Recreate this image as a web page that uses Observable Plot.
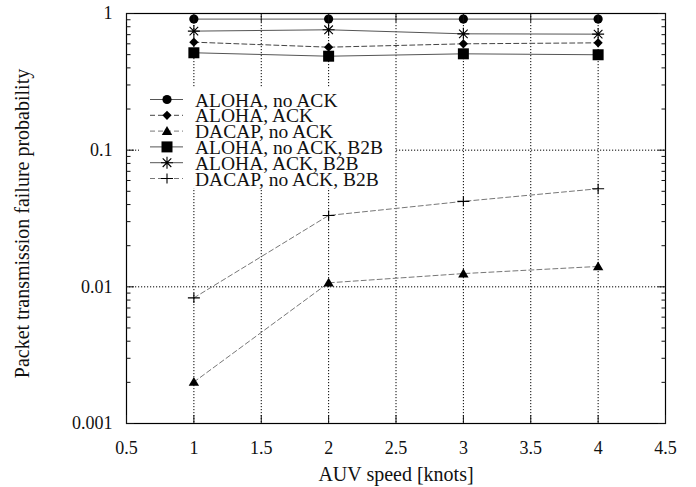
<!DOCTYPE html>
<html>
<head>
<meta charset="utf-8">
<script src="https://cdn.jsdelivr.net/npm/d3@7"></script>
<script src="https://cdn.jsdelivr.net/npm/@observablehq/plot@0.6"></script>
<style>
  html, body { margin: 0; padding: 0; background: white; }
  #chart { width: 696px; height: 487px; }
</style>
</head>
<body>
<div id="chart"></div>
<script>
// ---- data ----
const speeds = [1, 2, 3, 4];
const alohaNoAck    = [0.91, 0.91, 0.91, 0.91];
const alohaAck      = [0.617, 0.567, 0.60, 0.61];
const dacapNoAck    = [0.00201, 0.0107, 0.0125, 0.0141];
const alohaNoAckB2B = [0.516, 0.487, 0.507, 0.499];
const alohaAckB2B   = [0.743, 0.76, 0.71, 0.706];
const dacapNoAckB2B = [0.0083, 0.0333, 0.0422, 0.0522];

const seriesNames = ["ALOHA, no ACK", "ALOHA, ACK", "DACAP, no ACK",
                     "ALOHA, no ACK, B2B", "ALOHA, ACK, B2B", "DACAP, no ACK, B2B"];
const seriesValues = [alohaNoAck, alohaAck, dacapNoAck, alohaNoAckB2B, alohaAckB2B, dacapNoAckB2B];

const xTicks = [0.5, 1, 1.5, 2, 2.5, 3, 3.5, 4, 4.5];
const xGrid = [1, 1.5, 2, 2.5, 3, 3.5, 4];
const yTicks = [0.001, 0.01, 0.1, 1];
const yTickLabels = ["0.001", "0.01", "0.1", "1"];
const yGrid = [0.01, 0.1];
const yMinor = [];
for (const d of [0.001, 0.01, 0.1]) for (let m = 2; m <= 9; m++) yMinor.push(+(d * m).toPrecision(3));

const xLabel = "AUV speed [knots]";
const yLabel = "Packet transmission failure probability";

// ---- styles ----
const FONT = "'Liberation Serif', 'Times New Roman', serif";
const sym = {
  circle:   {draw(c) { c.moveTo(4.6, 0); c.arc(0, 0, 4.6, 0, 2 * Math.PI); }},
  diamond:  {draw(c) { const h = 4.6; c.moveTo(0, -h); c.lineTo(h, 0); c.lineTo(0, h); c.lineTo(-h, 0); c.closePath(); }},
  triangle: {draw(c) { c.moveTo(0, -5); c.lineTo(5.2, 3.8); c.lineTo(-5.2, 3.8); c.closePath(); }},
  square:   {draw(c) { c.rect(-5.5, -5.5, 11, 11); }},
  asterisk: {draw(c) { const h = 6; c.moveTo(-h, 0); c.lineTo(h, 0); c.moveTo(0, -h); c.lineTo(0, h);
                        const d = 4.3; c.moveTo(-d, -d); c.lineTo(d, d); c.moveTo(-d, d); c.lineTo(d, -d); }},
  plus:     {draw(c) { c.moveTo(-6, 0); c.lineTo(6, 0); c.moveTo(0, -5); c.lineTo(0, 5); }}
};
const styles = [
  {symbol: sym.circle,   filled: true,  stroke: "#555", dash: null},
  {symbol: sym.diamond,  filled: true,  stroke: "#444", dash: "5,3"},
  {symbol: sym.triangle, filled: true,  stroke: "#777", dash: "5,3"},
  {symbol: sym.square,   filled: true,  stroke: "#555", dash: null},
  {symbol: sym.asterisk, filled: false, stroke: "#555", dash: null},
  {symbol: sym.plus,     filled: false, stroke: "#777", dash: "5,3"}
];

const rows = [];
seriesNames.forEach((name, i) => speeds.forEach((s, j) => rows.push({series: name, idx: i, x: s, y: seriesValues[i][j]})));

const marks = [
  Plot.ruleX(xGrid, {stroke: "black", strokeWidth: 1, strokeDasharray: "1.2,1.8"}),
  Plot.ruleY(yGrid, {stroke: "black", strokeWidth: 1, strokeDasharray: "1.2,1.8"}),
];
styles.forEach((st, i) => {
  const d = rows.filter(r => r.idx === i);
  marks.push(Plot.line(d, {x: "x", y: "y", stroke: st.stroke, strokeWidth: 1, strokeDasharray: st.dash || undefined}));
});
styles.forEach((st, i) => {
  const d = rows.filter(r => r.idx === i);
  marks.push(Plot.dot(d, {x: "x", y: "y", symbol: st.symbol,
    fill: st.filled ? "black" : "none", stroke: st.filled ? "none" : "black", strokeWidth: 1.1}));
});
marks.push(
  Plot.frame({stroke: "black", strokeWidth: 1.2}),
  Plot.axisX({ticks: xTicks, tickSize: 0, tickPadding: 18, tickFormat: d => String(d), label: null, fontSize: 18}),
  Plot.axisX({ticks: xTicks, tickSize: -8, text: null, label: null, anchor: "bottom"}),
  Plot.axisX({ticks: xTicks, tickSize: -8, text: null, label: null, anchor: "top"}),
  Plot.axisY({ticks: yTicks, tickSize: 0, tickPadding: 14, tickFormat: d => yTickLabels[yTicks.indexOf(d)], label: null, fontSize: 18}),
  Plot.axisY({ticks: yTicks, tickSize: -8, text: null, label: null, anchor: "left"}),
  Plot.axisY({ticks: yTicks, tickSize: -8, text: null, label: null, anchor: "right"}),
  Plot.axisY({ticks: yMinor, tickSize: -4.5, text: null, label: null, anchor: "left"}),
  Plot.axisY({ticks: yMinor, tickSize: -4.5, text: null, label: null, anchor: "right"}),
  Plot.text([xLabel], {frameAnchor: "bottom", textAnchor: "middle", lineAnchor: "middle", dy: 51, fontSize: 20}),
  Plot.text([yLabel], {frameAnchor: "left", textAnchor: "middle", lineAnchor: "middle", dx: -104, dy: 5, rotate: -90, fontSize: 20})
);

const chart = Plot.plot({
  width: 696, height: 487,
  marginLeft: 126, marginRight: 31, marginTop: 13, marginBottom: 64,
  style: {fontFamily: FONT, fontSize: "18px", color: "#111", background: "white"},
  x: {domain: [0.5, 4.5]},
  y: {type: "log", domain: [0.001, 1]},
  marks
});
document.getElementById("chart").appendChild(chart);

// ---- legend (white box over the grid) ----
const svg = d3.select(chart);
const g = svg.append("g").attr("class", "legend");
g.append("rect").attr("x", 139).attr("y", 88).attr("width", 256).attr("height", 100).attr("fill", "white");
const rowY0 = 99.5, rowStep = 15.8;
styles.forEach((st, i) => {
  const y = rowY0 + i * rowStep;
  g.append("line").attr("x1", 150).attr("x2", 183).attr("y1", y).attr("y2", y)
    .attr("stroke", st.stroke).attr("stroke-width", 1).attr("stroke-dasharray", st.dash);
  g.append("path").attr("d", d3.symbol().type(st.symbol)())
    .attr("transform", `translate(167,${y})`)
    .attr("fill", st.filled ? "black" : "none").attr("stroke", st.filled ? "none" : "black").attr("stroke-width", 1.1);
  g.append("text").attr("x", 195).attr("y", y).attr("dy", "0.36em")
    .attr("text-anchor", "start")
    .attr("font-family", FONT).attr("font-size", 19.5)
    .attr("fill", "#111").text(seriesNames[i]);
});
</script>
</body>
</html>
